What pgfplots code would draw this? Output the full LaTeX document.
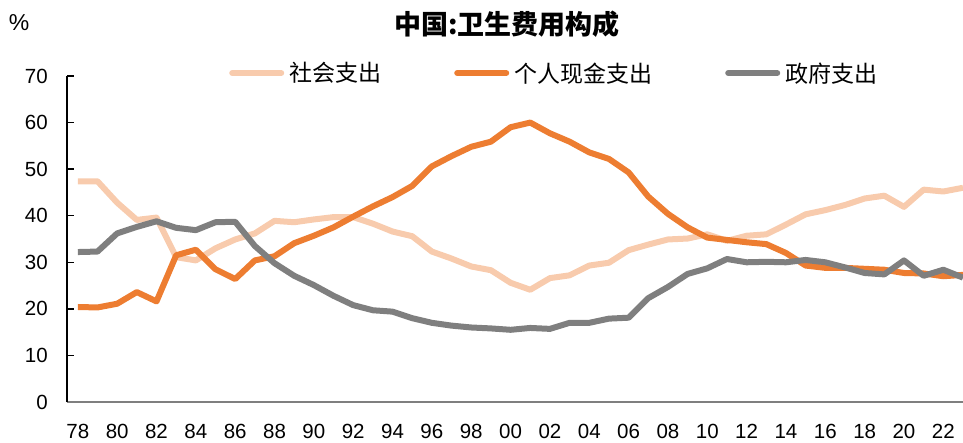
\documentclass[border=0pt]{standalone}
\usepackage{fontspec}
\setmainfont{Liberation Sans}
\newfontfamily\cjk{Noto Sans CJK SC}
\usepackage{pgfplots}
\pgfplotsset{compat=1.18}
\usepackage{pgfplotstable}
\definecolor{cSoc}{HTML}{F8CBAD}
\definecolor{cPer}{HTML}{ED7D31}
\definecolor{cGov}{HTML}{7F7F7F}
\pgfplotstableread{
year soc per gov
1978 47.4 20.4 32.2
1979 47.4 20.3 32.3
1980 42.8 21.1 36.2
1981 39.1 23.6 37.6
1982 39.6 21.6 38.8
1983 31.1 31.5 37.4
1984 30.4 32.7 36.9
1985 33.0 28.5 38.6
1986 34.9 26.4 38.7
1987 36.2 30.4 33.5
1988 38.9 31.3 29.8
1989 38.6 34.1 27.1
1990 39.2 35.7 25.1
1991 39.7 37.5 22.8
1992 39.7 39.8 20.8
1993 38.3 42.0 19.7
1994 36.6 44.0 19.4
1995 35.6 46.4 18.0
1996 32.3 50.6 17.0
1997 30.8 52.8 16.4
1998 29.1 54.8 16.0
1999 28.3 55.9 15.8
2000 25.6 59.0 15.5
2001 24.1 60.0 15.9
2002 26.6 57.7 15.7
2003 27.2 55.9 17.0
2004 29.3 53.6 17.0
2005 29.9 52.2 17.9
2006 32.6 49.3 18.1
2007 33.8 44.1 22.3
2008 34.9 40.4 24.7
2009 35.1 37.5 27.5
2010 36.0 35.3 28.7
2011 34.6 34.8 30.7
2012 35.7 34.3 30.0
2013 36.0 33.9 30.1
2014 38.1 32.0 30.0
2015 40.3 29.3 30.5
2016 41.2 28.8 30.0
2017 42.3 28.8 28.9
2018 43.7 28.6 27.7
2019 44.3 28.4 27.4
2020 41.9 27.7 30.4
2021 45.6 27.6 27.1
2022 45.2 27.0 28.4
2023 46.0 27.3 26.7
}\datatable
\begin{document}
\begin{tikzpicture}
\path[use as bounding box] (0,0) rectangle (963bp,443bp);
\begin{axis}[
  at={(67bp,41bp)}, anchor=south west,
  scale only axis, width=896bp, height=326bp,
  xmin=1977.45, xmax=2023, ymin=0, ymax=70,
  clip=false,
  axis x line*=bottom, axis y line*=left,
  x axis line style={draw=cGov, line width=1.4bp, -},
  y axis line style={draw=black, line width=1.4bp, -},
  xtick={1978,1980,...,2022},
  xticklabels={78,80,82,84,86,88,90,92,94,96,98,00,02,04,06,08,10,12,14,16,18,20,22},
  ytick={0,10,...,70},
  tick align=inside,
  x tick style={draw=none},
  y tick style={draw=black, line width=1.4bp},
  major tick length=7bp,
  /pgf/number format/assume math mode=true,
  ticklabel style={font=\fontsize{20.5bp}{24bp}\selectfont, inner sep=0pt},
  yticklabel style={xshift=-19bp},
  xticklabel style={yshift=-22bp},
  legend columns=3,
  legend style={draw=none, fill=none, at={(0.1775,1)}, anchor=west, yshift=3bp,
    font=\cjk\fontsize{23bp}{26bp}\selectfont, inner sep=0pt,
    nodes={inner sep=0pt, anchor=west},
    /tikz/every even column/.append style={column sep=70bp}},
  legend image code/.code={\path (0bp,0bp); \draw[#1, line cap=round] (3bp,0bp) -- (52bp,0bp); \path (57bp,0bp);},
  every axis plot/.append style={line width=6bp, line join=round, no markers},
]
\addplot[cSoc] table[x=year, y=soc] {\datatable};
\addlegendentry{社会支出}
\addplot[cPer] table[x=year, y=per] {\datatable};
\addlegendentry{个人现金支出}
\addplot[cGov] table[x=year, y=gov] {\datatable};
\addlegendentry{政府支出}
\end{axis}
\node[font=\fontsize{23bp}{26bp}\selectfont, inner sep=0pt] at (19bp,420bp) {\%};
\node[font=\cjk\bfseries\fontsize{27bp}{30bp}\selectfont, inner sep=0pt] at (507bp,419bp) {中国:卫生费用构成};
\end{tikzpicture}
\end{document}
